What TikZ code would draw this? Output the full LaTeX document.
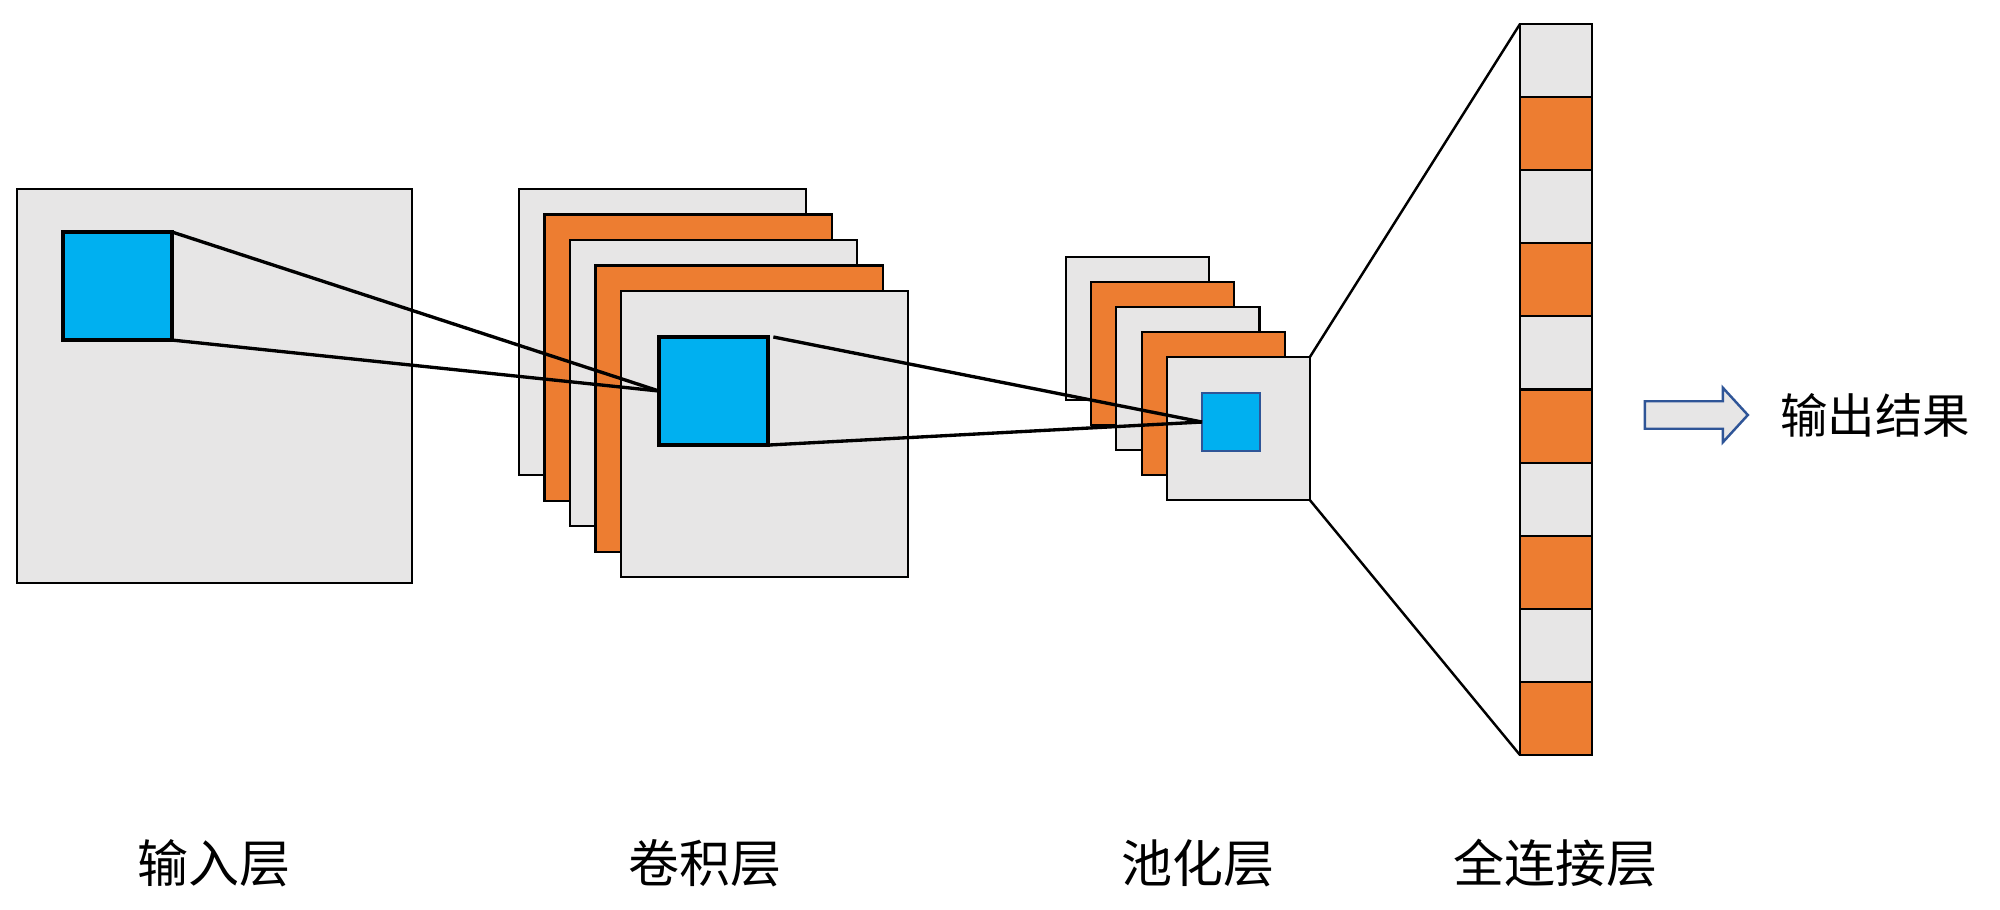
\documentclass[tikz,border=0pt]{standalone}
\usepackage{fontspec}
\newfontfamily\cjk{Noto Sans CJK SC}
\usetikzlibrary{positioning,shapes.arrows}
\definecolor{mapgrey}{HTML}{E7E6E6}
\definecolor{maporange}{HTML}{ED7D31}
\definecolor{patchblue}{HTML}{00B0F0}
\definecolor{arrowblue}{HTML}{2F5597}
\tikzset{
	fmap/.style={draw, line width=0.6pt, fill=#1, inner sep=0pt, outer sep=0pt, anchor=north west},
	patch/.style={draw, line width=1pt, fill=patchblue, inner sep=0pt, outer sep=0pt, anchor=north west},
	link/.style={line width=0.95pt},
	layername/.style={font=\cjk\fontsize{14.5}{16}\selectfont, inner sep=0pt}
}
\begin{document}
\begin{tikzpicture}[x=0.01cm,y=-0.01cm]
	\useasboundingbox (0,0) rectangle (2000,909);
	% Input layer
	\node[fmap=mapgrey, minimum width=3.95cm, minimum height=3.94cm] (inmap) at (17,189) {};
	\node[patch, minimum width=1.09cm, minimum height=1.08cm] (inpatch) at (63,232) {};
	% Convolution layer: stacked feature maps
	\foreach \i/\col in {1/mapgrey,2/maporange,3/mapgrey,4/maporange,5/mapgrey}
		\node[fmap=\col, minimum width=2.87cm, minimum height=2.86cm] (conv\i) at ({519+25.5*(\i-1)},{189+25.5*(\i-1)}) {};
	\node[patch, minimum width=1.09cm, minimum height=1.08cm] (convpatch) at (659,337) {};
	% Pooling layer
	\foreach \i/\col in {1/mapgrey,2/maporange,3/mapgrey,4/maporange,5/mapgrey}
		\node[fmap=\col, minimum width=1.43cm, minimum height=1.43cm] (pool\i) at ({1066+25.2*(\i-1)},{257+25*(\i-1)}) {};
	\node[patch, draw=arrowblue, line width=0.6pt, minimum width=0.58cm, minimum height=0.58cm] (poolpatch) at (1202,393) {};
	% Fully connected column
	\foreach \i in {1,...,10}{
		\pgfmathsetmacro{\cellcol}{isodd(\i) ? "mapgrey" : "maporange"}
		\node[fmap=\cellcol, minimum width=0.72cm, minimum height=0.731cm] (fc\i) at ({1520},{24+73.1*(\i-1)}) {};
	}
	% Receptive field lines
	\draw[link] (inpatch.north east) -- (convpatch.west);
	\draw[link] (inpatch.south east) -- (convpatch.west);
	\draw[link] ([xshift=1.5pt]convpatch.north east) -- (poolpatch.west);
	\draw[link] (convpatch.south east) -- (poolpatch.west);
	\draw[line width=0.7pt] (pool5.north east) -- (fc1.north west);
	\draw[line width=0.7pt] (pool5.south east) -- (fc10.south west);
	% Output
	\node[single arrow, draw=arrowblue, fill=mapgrey, line width=0.7pt, inner xsep=0pt, inner ysep=0.125cm,
		minimum height=1.03cm, single arrow head extend=0.135cm,
		single arrow tip angle=95] (outarrow) at (1690,415) {};
	\node[font=\cjk\fontsize{13.5}{15}\selectfont, inner sep=0pt] (result) at (1875,415) {输出结果};
	% Layer names
	\node[layername] (inname) at (214,863) {输入层};
	\node[layername] (convname) at (705,863) {卷积层};
	\node[layername] (poolname) at (1198,863) {池化层};
	\node[layername] (fcname) at (1555,863) {全连接层};
\end{tikzpicture}
\end{document}
